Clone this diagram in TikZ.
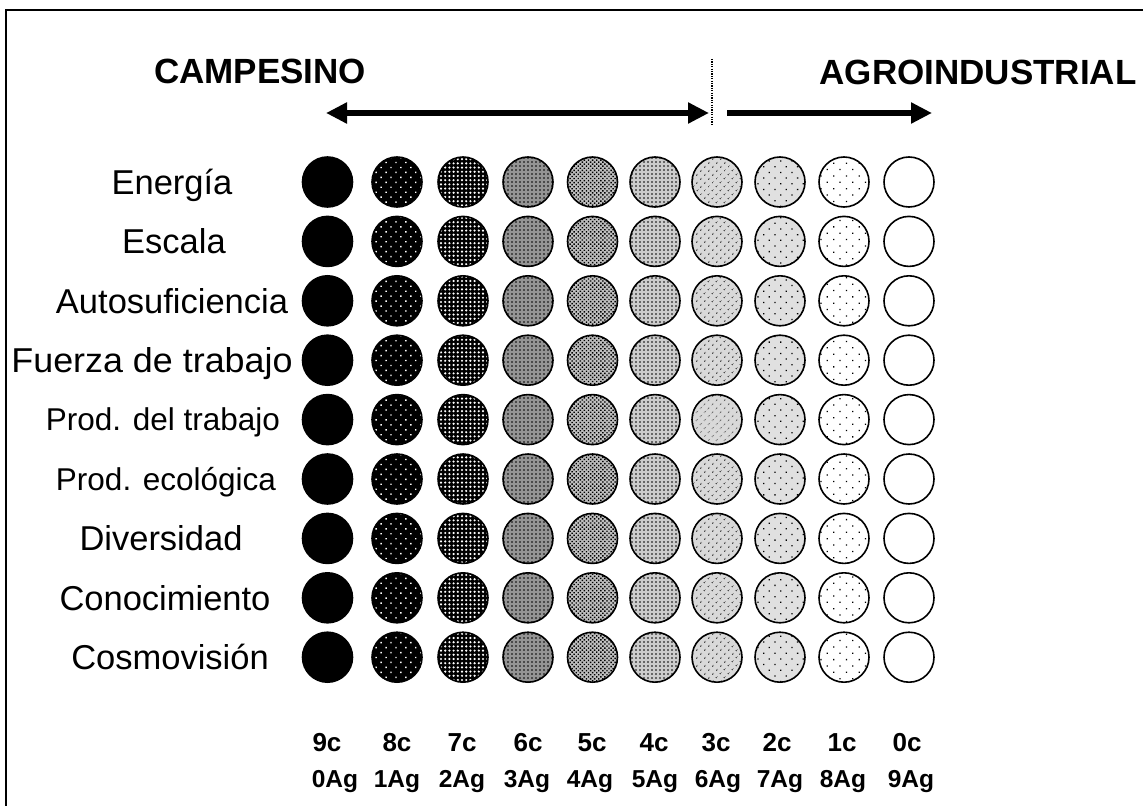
\documentclass[tikz,border=0pt]{standalone}
\usepackage{fontspec}
\setmainfont{Liberation Sans}
\usetikzlibrary{patterns,patterns.meta,arrows.meta}
\begin{document}
\begin{tikzpicture}[x=1bp,y=-1bp,
  circ/.style={circle,draw=black,line width=1.6bp,minimum size=50bp,inner sep=0pt},
  p0/.style={fill=white},
  p1/.style={preaction={fill=white},pattern={Dots[radius=0.9bp,distance=9bp,angle=45]},pattern color=black},
  p2/.style={preaction={fill=black!12},pattern={Dots[radius=0.9bp,distance=8bp,angle=45]},pattern color=black},
  p3/.style={preaction={fill=black!15},pattern={Dots[radius=0.9bp,distance=6bp,angle=45]},pattern color=black},
  p4/.style={preaction={fill=black!20},pattern={Dots[radius=0.9bp,distance=4bp]},pattern color=black},
  p5/.style={preaction={fill=black!25},pattern={Dots[radius=1bp,distance=2.9bp,angle=45]},pattern color=black},
  p6/.style={preaction={fill=black!42},pattern={Dots[radius=0.9bp,distance=4bp]},pattern color=black},
  p7/.style={preaction={fill=black},pattern={Dots[radius=1.2bp,distance=4.2bp]},pattern color=white},
  p8/.style={preaction={fill=black},pattern={Dots[radius=1bp,distance=7bp,angle=45]},pattern color=white},
  p9/.style={fill=black},
  lab/.style={anchor=base,inner sep=0pt,font=\fontsize{34.5bp}{40bp}\selectfont},
  labs/.style={anchor=base,inner sep=0pt,font=\fontsize{31.5bp}{38bp}\selectfont},
  ttl/.style={anchor=base,inner sep=0pt,font=\fontsize{35bp}{42bp}\selectfont\bfseries},
  cl/.style={anchor=base,inner sep=0pt,font=\fontsize{26bp}{30bp}\selectfont\bfseries},
  agl/.style={anchor=base,inner sep=0pt,font=\fontsize{24.5bp}{28bp}\selectfont\bfseries},
  bigarrow/.style={line width=6bp,{Triangle[length=21bp,width=20bp]}-{Triangle[length=21bp,width=20bp]}},
  onearrow/.style={line width=6bp,-{Triangle[length=21bp,width=20bp]}}
]
\useasboundingbox (0,0) rectangle (1143,806);
\fill[white] (0,0) rectangle (1143,806);
\draw[line width=2bp] (6,806) -- (6,10) -- (1143,10);

% titles
\node[ttl] (camp) at (260,84) {CAMPESINO};
\node[ttl] (agro) at (978,85) {AGROINDUSTRIAL};

% arrows
\coordinate (a1) at (326,113);
\coordinate (a2) at (709,113);
\coordinate (b1) at (727,113);
\coordinate (b2) at (932,113);
\coordinate (d1) at (712,59);
\coordinate (d2) at (712,125);
\draw[bigarrow] (a1) -- (a2);
\draw[onearrow] (b1) -- (b2);
\draw[line width=1.2bp,dash pattern=on 1.2bp off 1.2bp] (d1) -- (d2);

% circles
\foreach \j in {0,...,8}{
  \foreach \x [count=\i from 0] in {327.5,397,463,528,592.5,655,717,780,844,909}{
    \pgfmathtruncatemacro\k{9-\i}
    \node[circ,p\k] (c\j-\i) at (\x,{182+59.4*\j}) {};
  }
}

% row labels
\node[lab]  (r0) at (172,{182+0*59.4+12.3}) {Energía};
\node[lab]  (r1) at (174,{182+1*59.4+12.3}) {Escala};
\node[lab]  (r2) at (172,{182+2*59.4+12.3}) {Autosuficiencia};
\node[lab]  (r3) at (152,{182+3*59.4+12.3}) {\scalebox{1.04}[1]{Fuerza de trabajo}};
\node[labs] (r4) at (163,{182+4*59.4+11.3}) {Prod. del trabajo};
\node[labs] (r5) at (166,{182+5*59.4+11.3}) {Prod. ecológica};
\node[lab]  (r6) at (161,{182+6*59.4+12.3}) {Diversidad};
\node[lab]  (r7) at (165,{182+7*59.4+12.3}) {Conocimiento};
\node[lab]  (r8) at (170,{182+8*59.4+12.3}) {Cosmovisión};

% column labels
\foreach \t/\x [count=\n] in {9c/327,8c/397,7c/462,6c/528,5c/592,4c/654,3c/716,2c/777,1c/842,0c/907}{
  \node[cl] (k\n) at (\x,751) {\t};
}
\foreach \t/\x [count=\n] in {0Ag/335,1Ag/397,2Ag/462,3Ag/527,4Ag/590,5Ag/655,6Ag/718,7Ag/780,8Ag/843,9Ag/911}{
  \node[agl] (g\n) at (\x,787) {\t};
}
\end{tikzpicture}
\end{document}
